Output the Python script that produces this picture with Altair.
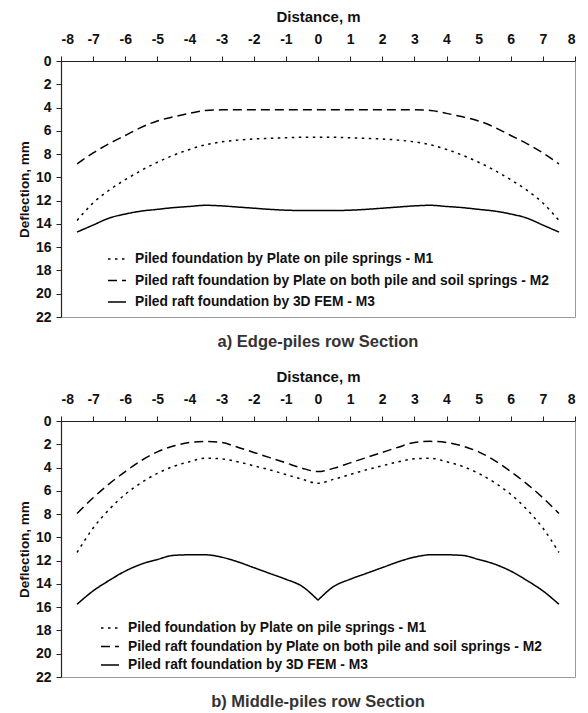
import altair as alt
import pandas as pd

# Shared x positions (Distance, m)
x_pos = [-7.5, -7, -6.5, -6, -5.5, -5, -4.5, -4, -3.5, -3, -2.5, -2, -1.5, -1, -0.5, 0,
         0.5, 1, 1.5, 2, 2.5, 3, 3.5, 4, 4.5, 5, 5.5, 6, 6.5, 7, 7.5]

series_names = [
    "Piled foundation by Plate on pile springs - M1",
    "Piled raft foundation by Plate on both pile and soil springs - M2",
    "Piled raft foundation by 3D FEM - M3",
]

# a) Edge-piles row section (deflection, mm)
a_m1 = [13.7, 12.2, 11.1, 10.2, 9.4, 8.7, 8.1, 7.6, 7.2, 6.95, 6.8, 6.7, 6.65, 6.6, 6.55, 6.55,
        6.55, 6.6, 6.65, 6.7, 6.8, 6.95, 7.2, 7.6, 8.1, 8.7, 9.4, 10.2, 11.1, 12.2, 13.7]
a_m2 = [8.85, 7.9, 7.1, 6.4, 5.7, 5.15, 4.8, 4.5, 4.25, 4.2, 4.2, 4.2, 4.2, 4.2, 4.2, 4.2,
        4.2, 4.2, 4.2, 4.2, 4.2, 4.2, 4.25, 4.5, 4.8, 5.15, 5.7, 6.4, 7.1, 7.9, 8.85]
a_m3 = [14.7, 14.1, 13.5, 13.15, 12.9, 12.75, 12.6, 12.5, 12.4, 12.45, 12.55, 12.65, 12.75, 12.82, 12.85, 12.85,
        12.85, 12.82, 12.75, 12.65, 12.55, 12.45, 12.4, 12.5, 12.6, 12.75, 12.9, 13.15, 13.5, 14.1, 14.7]

# b) Middle-piles row section (deflection, mm)
b_m1 = [11.3, 9.2, 7.6, 6.3, 5.3, 4.5, 3.9, 3.5, 3.2, 3.25, 3.5, 3.85, 4.2, 4.6, 5.0, 5.35,
        5.0, 4.6, 4.2, 3.85, 3.5, 3.25, 3.2, 3.5, 3.9, 4.5, 5.3, 6.3, 7.6, 9.2, 11.3]
b_m2 = [7.95, 6.6, 5.4, 4.35, 3.4, 2.65, 2.15, 1.85, 1.75, 1.85, 2.25, 2.7, 3.15, 3.6, 4.05, 4.35,
        4.05, 3.6, 3.15, 2.7, 2.25, 1.85, 1.75, 1.85, 2.15, 2.65, 3.4, 4.35, 5.4, 6.6, 7.95]
b_m3 = [15.75, 14.6, 13.7, 12.9, 12.3, 11.9, 11.55, 11.5, 11.5, 11.7, 12.1, 12.6, 13.1, 13.6, 14.2, 15.4,
        14.2, 13.6, 13.1, 12.6, 12.1, 11.7, 11.5, 11.5, 11.55, 11.9, 12.3, 12.9, 13.7, 14.6, 15.75]

x_ticks = list(range(-8, 9))
y_ticks = list(range(0, 23, 2))

FONT = "Liberation Sans"


def make_df(m1, m2, m3, cusp_series=()):
    rows = []
    for name, vals in zip(series_names, [m1, m2, m3]):
        for xv, yv in zip(x_pos, vals):
            if name in cusp_series:
                # a sharp cusp at x = 0: draw left and right halves as separate lines
                if xv <= 0:
                    rows.append({"x": xv, "y": yv, "series": name, "seg": name + "-L"})
                if xv >= 0:
                    rows.append({"x": xv, "y": yv, "series": name, "seg": name + "-R"})
            else:
                rows.append({"x": xv, "y": yv, "series": name, "seg": name})
    return pd.DataFrame(rows)


def panel(df, caption, legend_x, legend_y, row_pad):
    return alt.Chart(df).mark_line(color="black", strokeWidth=1.5, interpolate="monotone").encode(
        x=alt.X("x:Q",
                scale=alt.Scale(domain=[-8, 8], nice=False, zero=False),
                axis=alt.Axis(orient="top", title="Distance, m", values=x_ticks, grid=False,
                              tickSize=5, labelPadding=10, titlePadding=8,
                              labelExpr="'' + datum.value", titleFontSize=15)),
        y=alt.Y("y:Q",
                scale=alt.Scale(domain=[0, 22], reverse=True, nice=False),
                axis=alt.Axis(title="Deflection, mm", values=y_ticks, grid=False,
                              tickSize=5, labelPadding=5, titlePadding=4,
                              labelExpr="'' + datum.value", titleFontSize=13.5)),
        strokeDash=alt.StrokeDash(
            "series:N",
            scale=alt.Scale(domain=series_names, range=[[2.5, 4.5], [9, 5], [1, 0]]),
            legend=alt.Legend(title=None, orient="none", legendX=legend_x, legendY=legend_y,
                              symbolType="stroke", symbolStrokeColor="black", symbolStrokeWidth=1.5,
                              symbolSize=324, labelFont=FONT, labelFontSize=13.8, labelFontWeight="bold",
                              labelColor="#111", labelLimit=0, rowPadding=row_pad, labelOffset=8,
                              symbolOffset=0)),
        detail="seg:N",
        order="x:Q",
    ).properties(
        width=514, height=256,
        title=alt.TitleParams(caption, orient="bottom", font=FONT, fontSize=16.5, fontWeight="bold",
                              color="#333", offset=10),
    )


chart_a = panel(make_df(a_m1, a_m2, a_m3), "a) Edge-piles row Section", 46, 188, 4.5)
chart_b = panel(make_df(b_m1, b_m2, b_m3, cusp_series=(series_names[2],)),
                "b) Middle-piles row Section", 39, 197, 1.5)

chart = alt.vconcat(chart_a, chart_b, spacing=17).resolve_scale(strokeDash="independent").configure(
    padding={"left": 8, "top": 0, "right": 2, "bottom": 0},
).configure_view(
    stroke="#9a9a9a", strokeWidth=1
).configure_axis(
    labelFont=FONT, labelFontSize=14, labelFontWeight="bold", labelColor="#111",
    titleFont=FONT, titleFontWeight="bold", titleColor="#111",
    domainColor="#222", tickColor="#222", domainWidth=1.2, tickWidth=1,
).configure_legend(
    padding=0
)

chart.save("out.html", embed_options={"renderer": "svg", "actions": False})
